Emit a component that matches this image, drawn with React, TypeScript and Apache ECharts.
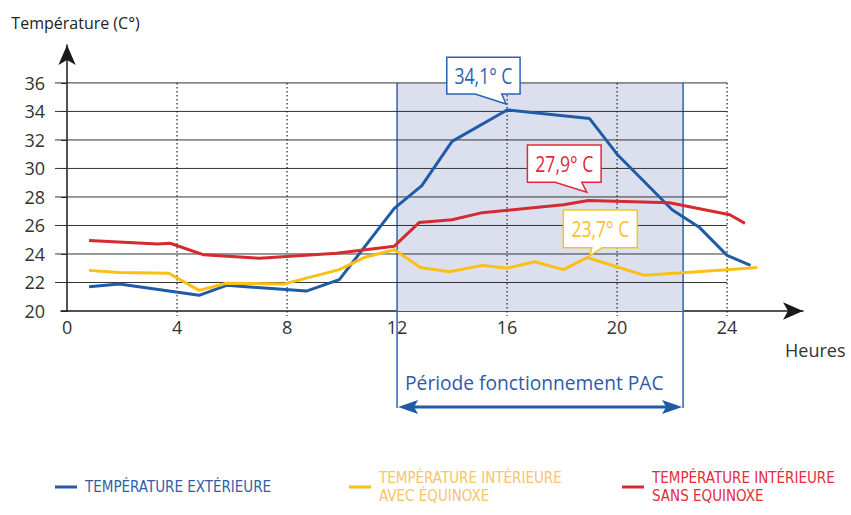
import React, { useEffect, useRef } from 'react';
import * as echarts from 'echarts';

// ---- Axis ticks ----
const xTickLabels = [0, 4, 8, 12, 16, 20, 24];
const yTickLabels = [20, 22, 24, 26, 28, 30, 32, 34, 36];
const dottedHours = [4, 8, 16, 20, 24];

// ---- Series: Température extérieure ----
const extHours = [0.8, 1.9, 4.8, 5.8, 8.7, 9.9, 11.9, 12.9, 14, 16, 19, 20, 22, 23, 24, 24.85];
const extValues = [21.7, 21.9, 21.1, 21.8, 21.4, 22.2, 27.2, 28.8, 31.9, 34.1, 33.5, 31.0, 27.1, 25.85, 23.9, 23.2];

// ---- Series: Température intérieure avec Equinoxe ----
const avecHours = [0.8, 1.9, 3.7, 4.8, 5.8, 7.9, 9.9, 10.8, 11.9, 12.85, 13.9, 15.1, 16, 17, 18.05, 18.9, 21, 24, 25.1];
const avecValues = [22.85, 22.7, 22.65, 21.45, 21.95, 21.9, 22.9, 23.75, 24.3, 23.05, 22.75, 23.2, 23.0, 23.45, 22.9, 23.75, 22.5, 22.9, 23.05];

// ---- Series: Température intérieure sans Equinoxe ----
const sansHours = [0.8, 3.3, 3.75, 4.95, 7.0, 9.8, 11.9, 12.8, 14, 15.1, 18.05, 18.95, 21.9, 24.1, 24.65];
const sansValues = [24.95, 24.7, 24.75, 23.95, 23.7, 24.05, 24.55, 26.2, 26.4, 26.9, 27.45, 27.75, 27.6, 26.75, 26.15];

const seriesNames = [
  'TEMPÉRATURE EXTÉRIEURE',
  'TEMPÉRATURE INTÉRIEURE\nAVEC ÉQUINOXE',
  'TEMPÉRATURE INTÉRIEURE\nSANS EQUINOXE',
];

// ---- Callouts ----
const calloutHours = [16, 18.95, 18.9];
const calloutValues = [34.1, 27.75, 23.75];
const calloutTexts = ['34,1° C', '27,9° C', '23,7° C'];

// ---- Period ----
const periodStart = 12;
const periodEnd = 22.4;
const periodLabel = 'Période fonctionnement PAC';

const axisTitleY = 'Température (C°)';
const axisTitleX = 'Heures';

const X_MIN = -0.22;
const X_MAX = 26.76;
const Y_MIN = 20;
const Y_MAX = 38.66;

const BLUE = '#1f5ba6';
const YELLOW = '#fbbf16';
const RED = '#d52a30';
const FONT = "'Open Sans', 'Noto Sans', sans-serif";
const NARROW = "'Liberation Sans Narrow', 'DejaVu Sans Condensed', 'Open Sans', sans-serif";

const calloutStyles = [
  { color: '#2b62b2', L: -60.3, R: 13, T: -52.7, B: -16, b1: -32, b2: -5.3, tx: -1, ty: -6 },
  { color: '#e0283a', L: -60.8, R: 12.9, T: -55.5, B: -18.2, b1: -33.1, b2: -6.4, tx: -1.4, ty: -8.2 },
  { color: '#f8c12a', L: -23.5, R: 50.5, T: -47.5, B: -9.8, b1: 5, b2: 15.3, tx: 2.5, ty: -1.5 },
];

const zip = (xs: number[], ys: number[]) => xs.map((x, i) => [x, ys[i]]);

export default function App() {
  const ref = useRef<HTMLDivElement>(null);
  useEffect(() => {
    if (!ref.current) return;
    const chart = echarts.init(ref.current, null, { renderer: 'svg' });

    const lineSeries = [
      { name: seriesNames[0], color: BLUE, data: zip(extHours, extValues) },
      { name: seriesNames[1], color: YELLOW, data: zip(avecHours, avecValues) },
      { name: seriesNames[2], color: RED, data: zip(sansHours, sansValues) },
    ].map((s) => ({
      type: 'line',
      name: s.name,
      data: s.data,
      showSymbol: false,
      symbol: 'none',
      z: 4,
      color: s.color,
      lineStyle: { color: s.color, width: 3 },
      silent: true,
    }));

    const calloutSeries = calloutTexts.map((txt, i) => ({
      type: 'custom',
      z: 6,
      silent: true,
      data: [[calloutHours[i], calloutValues[i]]],
      renderItem: (params: any, api: any) => {
        const p = api.coord([api.value(0), api.value(1)]);
        const s = calloutStyles[i];
        const X = (d: number) => p[0] + d;
        const Y = (d: number) => p[1] + d;
        return {
          type: 'group',
          children: [
            {
              type: 'polygon',
              shape: {
                points: [
                  [X(s.L), Y(s.T)],
                  [X(s.R), Y(s.T)],
                  [X(s.R), Y(s.B)],
                  [X(s.b2), Y(s.B)],
                  [X(s.tx), Y(s.ty)],
                  [X(s.b1), Y(s.B)],
                  [X(s.L), Y(s.B)],
                ],
              },
              style: { fill: '#ffffff', stroke: s.color, lineWidth: 1.5 },
            },
            {
              type: 'text',
              x: X((s.L + s.R) / 2),
              y: Y((s.T + s.B) / 2),
              scaleX: 0.8,
              style: {
                text: txt,
                x: 0,
                y: 0,
                align: 'center',
                verticalAlign: 'middle',
                fill: s.color,
                fontSize: 22,
                fontFamily: FONT,
              },
            },
          ],
        };
      },
    }));

    const legendBase = {
      padding: 0, icon: 'rect', itemWidth: 22, itemHeight: 3, selectedMode: false,
    };

    const option: any = {
      animation: false,
      backgroundColor: '#ffffff',
      textStyle: { fontFamily: FONT },
      grid: { left: 61, top: 45, width: 742, height: 266, containLabel: false },
      legend: [
        {
          ...legendBase, data: [seriesNames[0]], left: 55, top: 478,
          textStyle: { color: '#2f5ea9', fontFamily: NARROW, fontSize: 15, lineHeight: 18, padding: [0, 0, 0, 3] },
        },
        {
          ...legendBase, data: [seriesNames[1]], left: 349, top: 458,
          textStyle: { color: '#f6c46a', fontFamily: NARROW, fontSize: 15, lineHeight: 18, padding: [22, 0, 0, 3] },
        },
        {
          ...legendBase, data: [seriesNames[2]], left: 622, top: 458,
          textStyle: { color: '#e42c3a', fontFamily: NARROW, fontSize: 15, lineHeight: 18, padding: [22, 0, 0, 3] },
        },
      ],
      xAxis: {
        type: 'value',
        min: X_MIN,
        max: X_MAX,
        axisLine: { show: true, symbol: ['none', 'arrow'], symbolSize: [13, 20], lineStyle: { color: '#1a1a1a', width: 1.5 } },
        axisTick: { show: false },
        splitLine: { show: false },
        axisLabel: { customValues: xTickLabels, fontSize: 18, color: '#333', fontFamily: FONT, margin: 7 },
      },
      yAxis: {
        type: 'value',
        min: Y_MIN,
        max: Y_MAX,
        name: axisTitleY,
        nameLocation: 'end',
        nameGap: 14,
        nameTextStyle: { fontSize: 16, color: '#222', fontFamily: FONT, align: 'center', padding: [0, 0, 0, 17] },
        axisLine: { show: true, symbol: ['none', 'arrow'], symbolSize: [13, 20], lineStyle: { color: '#1a1a1a', width: 1.5 } },
        axisTick: { show: true, customValues: yTickLabels, length: 6, lineStyle: { color: '#222', width: 1 } },
        splitLine: { show: false },
        axisLabel: { customValues: yTickLabels, fontSize: 18, color: '#333', fontFamily: FONT, margin: 16 },
      },
      series: [
        // period shading + arrow
        {
          type: 'custom',
          z: 1,
          silent: true,
          data: [[periodStart, periodEnd]],
          renderItem: (params: any, api: any) => {
            const tl = api.coord([api.value(0), yTickLabels[yTickLabels.length - 1]]);
            const br = api.coord([api.value(1), yTickLabels[0]]);
            const yLow = br[1] + 97;
            const yArrow = br[1] + 96;
            const stroke = '#2d62b6';
            const aStroke = '#1f5aa6';
            return {
              type: 'group',
              children: [
                { type: 'rect', shape: { x: tl[0], y: tl[1], width: br[0] - tl[0], height: br[1] - tl[1] }, style: { fill: '#dce0ee' } },
                { type: 'line', shape: { x1: tl[0], y1: tl[1], x2: tl[0], y2: yLow }, style: { stroke, lineWidth: 1.5 } },
                { type: 'line', shape: { x1: br[0], y1: tl[1], x2: br[0], y2: yLow }, style: { stroke, lineWidth: 1.5 } },
                { type: 'line', shape: { x1: tl[0] + 10, y1: yArrow, x2: br[0] - 10, y2: yArrow }, style: { stroke: aStroke, lineWidth: 3 } },
                { type: 'polygon', shape: { points: [[tl[0] + 1, yArrow], [tl[0] + 21, yArrow - 7], [tl[0] + 17, yArrow], [tl[0] + 21, yArrow + 7]] }, style: { fill: aStroke } },
                { type: 'polygon', shape: { points: [[br[0] - 1, yArrow], [br[0] - 21, yArrow - 7], [br[0] - 17, yArrow], [br[0] - 21, yArrow + 7]] }, style: { fill: aStroke } },
                {
                  type: 'text',
                  style: { text: periodLabel, x: tl[0] + 8, y: br[1] + 71, align: 'left', verticalAlign: 'middle', fill: '#2f5aa8', fontSize: 19.2, fontFamily: FONT },
                },
              ],
            };
          },
        },
        // horizontal grid lines
        {
          type: 'custom',
          z: 2,
          silent: true,
          data: yTickLabels.slice(1).map((v) => [24, v]),
          renderItem: (params: any, api: any) => {
            const p = api.coord([api.value(0), api.value(1)]);
            const x0 = params.coordSys.x;
            return { type: 'line', shape: { x1: x0 - 6, y1: p[1], x2: p[0], y2: p[1] }, style: { stroke: '#333', lineWidth: 1 } };
          },
        },
        // dotted verticals
        {
          type: 'custom',
          z: 2,
          silent: true,
          data: dottedHours.map((h) => [h, yTickLabels[yTickLabels.length - 1]]),
          renderItem: (params: any, api: any) => {
            const top = api.coord([api.value(0), api.value(1)]);
            const bot = api.coord([api.value(0), yTickLabels[0]]);
            return { type: 'line', shape: { x1: top[0], y1: top[1], x2: bot[0], y2: bot[1] + 5 }, style: { stroke: '#222', lineWidth: 1.2, lineDash: [1.5, 2.5] } };
          },
        },
        // x axis title "Heures" below the arrow
        {
          type: 'custom',
          z: 2,
          silent: true,
          data: [[X_MAX, Y_MIN]],
          renderItem: (params: any, api: any) => {
            const p = api.coord([api.value(0), api.value(1)]);
            return {
              type: 'text',
              style: { text: axisTitleX, x: p[0] - 18, y: p[1] + 39, align: 'left', verticalAlign: 'middle', fill: '#333', fontSize: 18, fontFamily: FONT },
            };
          },
        },
        ...lineSeries,
        ...calloutSeries,
      ],
    };
    chart.setOption(option);
    return () => chart.dispose();
  }, []);

  return <div ref={ref} style={{ position: 'fixed', left: 0, top: 0, width: 851, height: 515, background: '#fff' }} />;
}
